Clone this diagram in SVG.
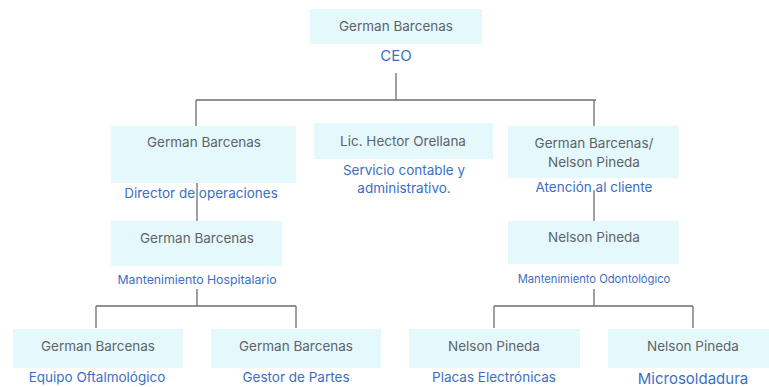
<svg xmlns="http://www.w3.org/2000/svg" width="769" height="387" viewBox="0 0 769 387">
  <style>
    .box { fill: #e5f9fd; }
    .name { font-family: Inter, "Noto Sans", "Liberation Sans", sans-serif; font-size: 13.5px; fill: #5f6368; text-anchor: middle; }
    .role { font-family: Inter, "Noto Sans", "Liberation Sans", sans-serif; font-size: 13.5px; fill: #3b6fc4; text-anchor: middle; }
    .role-sm { font-family: Inter, "Noto Sans", "Liberation Sans", sans-serif; font-size: 11.2px; fill: #3b6fc4; text-anchor: middle; }
    .link { fill: none; stroke: #6e6e6e; stroke-width: 1.3; }
  </style>
  <rect width="769" height="387" fill="#ffffff"/>

  <!-- connectors -->
  <g id="connectors">
    <path class="link" d="M396 73 V100 M196 100 H596 M196 100 V126 M594 100 V126"/>
    <path class="link" d="M197 183 V221"/>
    <path class="link" d="M594 190 V221"/>
    <path class="link" d="M197 289 V306 M96 306 H296 M96 306 V328 M296 306 V328"/>
    <path class="link" d="M594 289 V306 M494 306 H693 M494 306 V328 M693 306 V328"/>
  </g>

  <g id="ceo">
    <rect class="box" x="310" y="9" width="172" height="35"/>
    <text class="name" x="396" y="31">German Barcenas</text>
    <text class="role" x="396" y="61" style="font-size:15px">CEO</text>
  </g>

  <g id="director-operaciones">
    <rect class="box" x="111" y="126" width="185" height="57"/>
    <text class="name" x="204" y="147">German Barcenas</text>
    <text class="role" x="201" y="198">Director de operaciones</text>
  </g>

  <g id="servicio-contable">
    <rect class="box" x="314" y="123" width="179" height="36"/>
    <text class="name" x="403" y="146">Lic. Hector Orellana</text>
    <text class="role" x="404" y="175">Servicio contable y</text>
    <text class="role" x="404" y="193">administrativo.</text>
  </g>

  <g id="atencion-cliente">
    <rect class="box" x="508" y="126" width="171" height="52"/>
    <text class="name" x="594" y="148">German Barcenas/</text>
    <text class="name" x="594" y="167">Nelson Pineda</text>
    <text class="role" x="594" y="192">Atención al cliente</text>
  </g>

  <g id="mant-hospitalario">
    <rect class="box" x="111" y="221" width="171" height="45"/>
    <text class="name" x="197" y="243">German Barcenas</text>
    <text class="role-sm" x="197" y="284" style="font-size:12.3px">Mantenimiento Hospitalario</text>
  </g>

  <g id="mant-odontologico">
    <rect class="box" x="508" y="221" width="171" height="43"/>
    <text class="name" x="594" y="242">Nelson Pineda</text>
    <text class="role-sm" x="594" y="283">Mantenimiento Odontológico</text>
  </g>

  <g id="equipo-oftalmologico">
    <rect class="box" x="13" y="329" width="170" height="39"/>
    <text class="name" x="98" y="351">German Barcenas</text>
    <text class="role" x="97" y="382">Equipo Oftalmológico</text>
  </g>

  <g id="gestor-partes">
    <rect class="box" x="211" y="329" width="170" height="39"/>
    <text class="name" x="296" y="351">German Barcenas</text>
    <text class="role" x="296" y="382">Gestor de Partes</text>
  </g>

  <g id="placas-electronicas">
    <rect class="box" x="409" y="329" width="171" height="39"/>
    <text class="name" x="494" y="351">Nelson Pineda</text>
    <text class="role" x="494" y="382">Placas Electrónicas</text>
  </g>

  <g id="microsoldadura">
    <rect class="box" x="608" y="329" width="161" height="39"/>
    <text class="name" x="693" y="351">Nelson Pineda</text>
    <text class="role" x="693" y="383.5" style="font-size:15px">Microsoldadura</text>
  </g>
</svg>
